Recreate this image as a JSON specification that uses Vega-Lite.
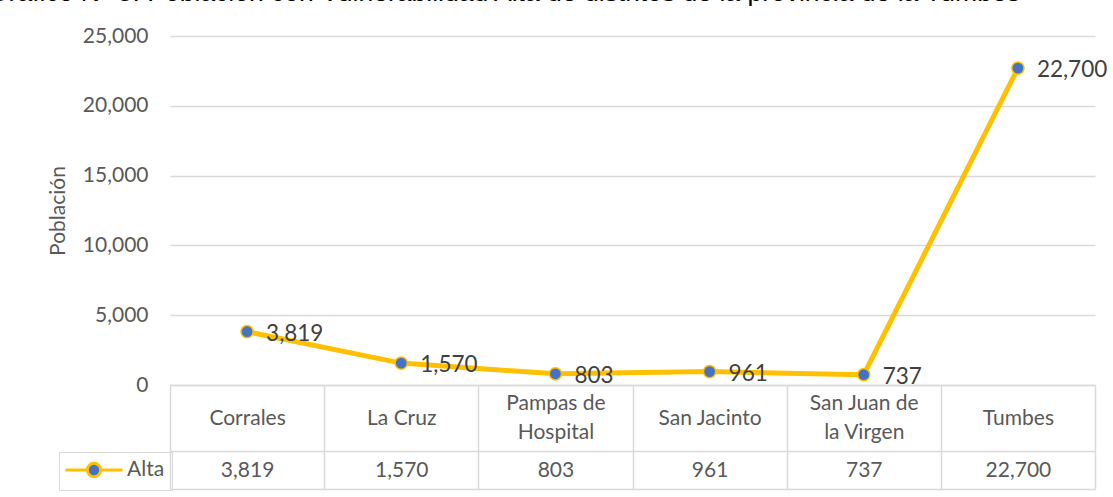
{
  "$schema": "https://vega.github.io/schema/vega-lite/v6.json",
  "autosize": {"type": "none"},
  "padding": {"left": 170, "top": 36, "right": 18, "bottom": 112},
  "width": 925,
  "height": 349,
  "background": "white",
  "title": {
    "text": "Gráfico N° 8: Población con Vulnerabilidad Alta de distritos de la provincia de la Tumbes",
    "anchor": "start",
    "frame": "group",
    "font": "Liberation Sans",
    "fontSize": 26.5,
    "fontWeight": "normal",
    "color": "#000000",
    "baseline": "alphabetic",
    "offset": 0,
    "dx": -182,
    "dy": 2.5
  },
  "data": {
    "values": [
      {"distrito": "Corrales", "serie": "Alta", "poblacion": 3819, "texto": "3,819"},
      {"distrito": "La Cruz", "serie": "Alta", "poblacion": 1570, "texto": "1,570"},
      {"distrito": "Pampas de Hospital", "serie": "Alta", "poblacion": 803, "texto": "803"},
      {"distrito": "San Jacinto", "serie": "Alta", "poblacion": 961, "texto": "961"},
      {"distrito": "San Juan de la Virgen", "serie": "Alta", "poblacion": 737, "texto": "737"},
      {"distrito": "Tumbes", "serie": "Alta", "poblacion": 22700, "texto": "22,700"}
    ]
  },
  "layer": [
    {
      "mark": {"type": "line", "strokeWidth": 5, "strokeJoin": "round", "strokeCap": "round"},
      "encoding": {
        "x": {
          "field": "distrito", "type": "nominal", "sort": null,
          "scale": {"type": "band", "paddingInner": 0, "paddingOuter": 0},
          "axis": {
            "orient": "bottom", "title": null, "grid": false,
            "domain": true, "domainColor": "#D9D9D9", "domainWidth": 1.5,
            "ticks": true, "tickBand": "extent", "tickSize": 66, "tickColor": "#D9D9D9", "tickWidth": 1.5,
            "labelAngle": 0, "labelBaseline": "middle",
            "labelPadding": {"condition": {"test": "datum.value == 'Pampas de Hospital' || datum.value == 'San Juan de la Virgen'", "value": -48}, "value": -33},
            "labelFontSize": 21, "labelColor": "#595959", "labelLineHeight": 29,
            "labelOverlap": false, "labelLimit": 300,
            "labelExpr": "datum.label == 'Pampas de Hospital' ? ['Pampas de', 'Hospital'] : datum.label == 'San Juan de la Virgen' ? ['San Juan de', 'la Virgen'] : datum.label"
          }
        },
        "y": {
          "field": "poblacion", "type": "quantitative",
          "scale": {"domain": [0, 25000], "nice": false},
          "axis": {
            "title": "Población", "titleFontSize": 21, "titleFontWeight": "normal", "titleColor": "#595959", "titlePadding": 14,
            "values": [0, 5000, 10000, 15000, 20000, 25000], "format": ",d",
            "labelFontSize": 21, "labelColor": "#595959", "labelPadding": 22,
            "domain": false, "ticks": false, "grid": true, "gridColor": "#D9D9D9", "gridWidth": 1.5
          }
        },
        "color": {
          "field": "serie", "type": "nominal",
          "scale": {"range": ["#FFC000"]},
          "legend": {
            "orient": "none", "legendX": -111, "legendY": 416,
            "title": null, "strokeColor": "#D9D9D9", "padding": 7,
            "symbolType": "M-3,0H-0.7M0.7,0H3M0.7,0A0.7,0.7,0,1,1,-0.7,0A0.7,0.7,0,1,1,0.7,0",
            "symbolSize": 361, "symbolStrokeWidth": 3, "symbolOffset": 17,
            "labelOffset": 22, "labelFontSize": 21, "labelColor": "#595959",
            "encode": {"symbols": {"update": {"fill": {"value": "#4472C4"}, "stroke": {"value": "#FFC000"}, "strokeWidth": {"value": 3}, "opacity": {"value": 1}}}}
          }
        }
      }
    },
    {
      "mark": {"type": "text", "align": "left", "baseline": "middle", "dx": 19, "dy": 2, "fontSize": 22.5, "color": "#404040"},
      "encoding": {
        "x": {
          "field": "texto", "type": "nominal", "sort": null,
          "scale": {"type": "band", "paddingInner": 0, "paddingOuter": 0},
          "axis": {
            "orient": "bottom", "offset": 66, "title": null, "grid": false,
            "domain": true, "domainColor": "#D9D9D9", "domainWidth": 1.5,
            "ticks": true, "tickBand": "extent", "tickSize": 38, "tickColor": "#D9D9D9", "tickWidth": 1.5,
            "labelAngle": 0, "labelBaseline": "middle", "labelPadding": -19,
            "labelFontSize": 21, "labelColor": "#595959", "labelOverlap": false
          }
        },
        "y": {"field": "poblacion", "type": "quantitative"},
        "text": {"field": "texto"}
      }
    },
    {
      "mark": {"type": "point", "filled": true, "size": 150, "fill": "#4472C4", "stroke": "#FFC000", "strokeWidth": 1.5, "opacity": 1},
      "encoding": {
        "x": {
          "field": "distrito", "type": "nominal", "sort": null,
          "scale": {"type": "band", "paddingInner": 0, "paddingOuter": 0},
          "axis": {
            "orient": "bottom", "offset": 104, "title": null, "grid": false,
            "domain": true, "domainColor": "#D9D9D9", "domainWidth": 1.5,
            "ticks": false, "labels": false
          }
        },
        "y": {"field": "poblacion", "type": "quantitative"}
      }
    }
  ],
  "resolve": {"scale": {"x": "independent"}},
  "config": {
    "font": "Lato",
    "view": {"stroke": null},
    "axis": {"labelFont": "Lato", "titleFont": "Lato"},
    "legend": {"labelFont": "Lato"}
  }
}
